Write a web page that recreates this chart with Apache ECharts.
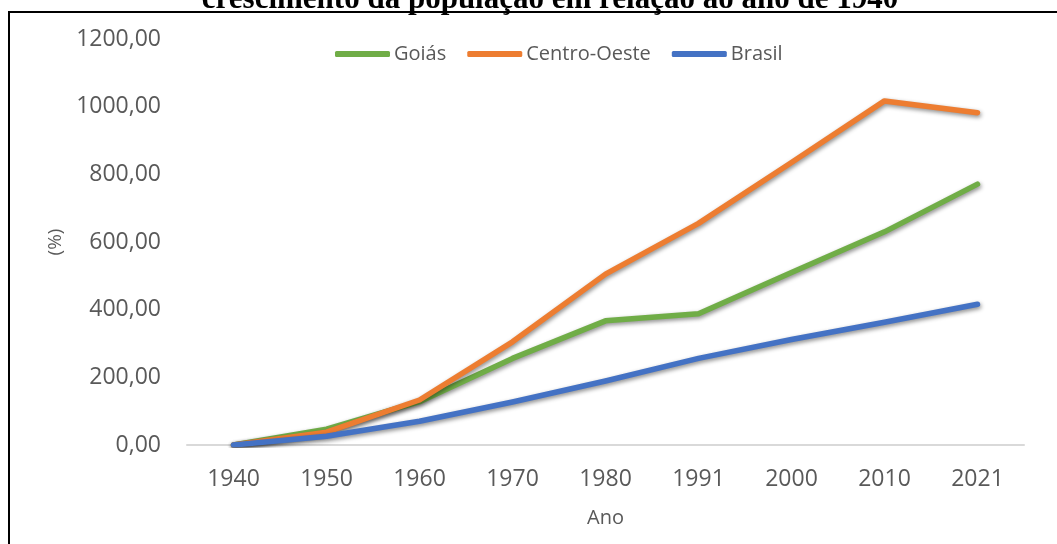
<!DOCTYPE html>
<html>
<head>
<meta charset="utf-8">
<script src="https://cdn.jsdelivr.net/npm/echarts@6/dist/echarts.min.js"></script>
<style>
html,body{margin:0;padding:0;background:#fff;}
#chart{width:1057px;height:544px;}
</style>
</head>
<body>
<div id="chart"></div>
<script>
const titleText = 'crescimento da população em relação ao ano de 1940';
const years = ['1940','1950','1960','1970','1980','1991','2000','2010','2021'];
const seriesNames = ['Goiás','Centro-Oeste','Brasil'];
const goias = [0, 47, 128, 256, 367, 388, 510, 630, 771];
const centroOeste = [0, 38, 133, 305, 505, 655, 835, 1017, 982];
const brasil = [0, 26, 70, 127, 189, 256, 312, 363, 416];
const yTicks = [0, 200, 400, 600, 800, 1000, 1200];
const colors = ['#70AD47', '#ED7D31', '#4472C4'];

const chart = echarts.init(document.getElementById('chart'), null, {renderer: 'canvas'});
const font = 'Open Sans';
function mkSeries(name, data, color) {
  return {
    name: name, type: 'line', data: data, symbol: 'none', smooth: false,
    itemStyle: {color: color},
    lineStyle: {color: color, width: 5.5, cap: 'round', join: 'round',
      shadowColor: 'rgba(0,0,0,0.45)', shadowBlur: 4, shadowOffsetX: 1, shadowOffsetY: 2}
  };
}
chart.setOption({
  animation: false,
  backgroundColor: '#fff',
  graphic: [
    {type: 'rect', shape: {x: 9, y: 12, width: 1100, height: 600},
     style: {fill: 'none', stroke: '#000', lineWidth: 2}, z: 100},
    {type: 'text', x: 550, y: 0,
     style: {text: titleText, font: 'bold 31px "Liberation Serif"', fill: '#000',
             align: 'center', verticalAlign: 'middle'}, z: 100}
  ],
  legend: {
    data: seriesNames, left: 330, top: 39,
    icon: 'roundRect', itemWidth: 55, itemHeight: 6, itemGap: 21,
    textStyle: {fontFamily: font, fontSize: 20, color: '#595959', padding: [0,0,0,-1]}
  },
  grid: {left: 187, right: 33, top: 39, bottom: 99, containLabel: false},
  xAxis: {
    type: 'category', data: years, boundaryGap: true,
    name: 'Ano', nameLocation: 'middle', nameGap: 63,
    nameTextStyle: {fontFamily: font, fontSize: 20, color: '#595959'},
    axisLine: {lineStyle: {color: '#D9D9D9', width: 2}},
    axisTick: {show: false},
    axisLabel: {fontFamily: font, fontSize: 23, color: '#595959', margin: 23}
  },
  yAxis: {
    type: 'value', min: yTicks[0], max: yTicks[yTicks.length-1], interval: 200,
    name: '(%)', nameLocation: 'middle', nameGap: 122, nameRotate: 90,
    nameTextStyle: {fontFamily: font, fontSize: 19, color: '#595959'},
    axisLine: {show: false}, axisTick: {show: false},
    splitLine: {show: false},
    axisLabel: {fontFamily: font, fontSize: 23, color: '#595959', margin: 26,
      formatter: v => v.toFixed(2).replace('.', ',')}
  },
  series: [
    mkSeries(seriesNames[0], goias, colors[0]),
    mkSeries(seriesNames[1], centroOeste, colors[1]),
    mkSeries(seriesNames[2], brasil, colors[2])
  ]
});
</script>
</body>
</html>
